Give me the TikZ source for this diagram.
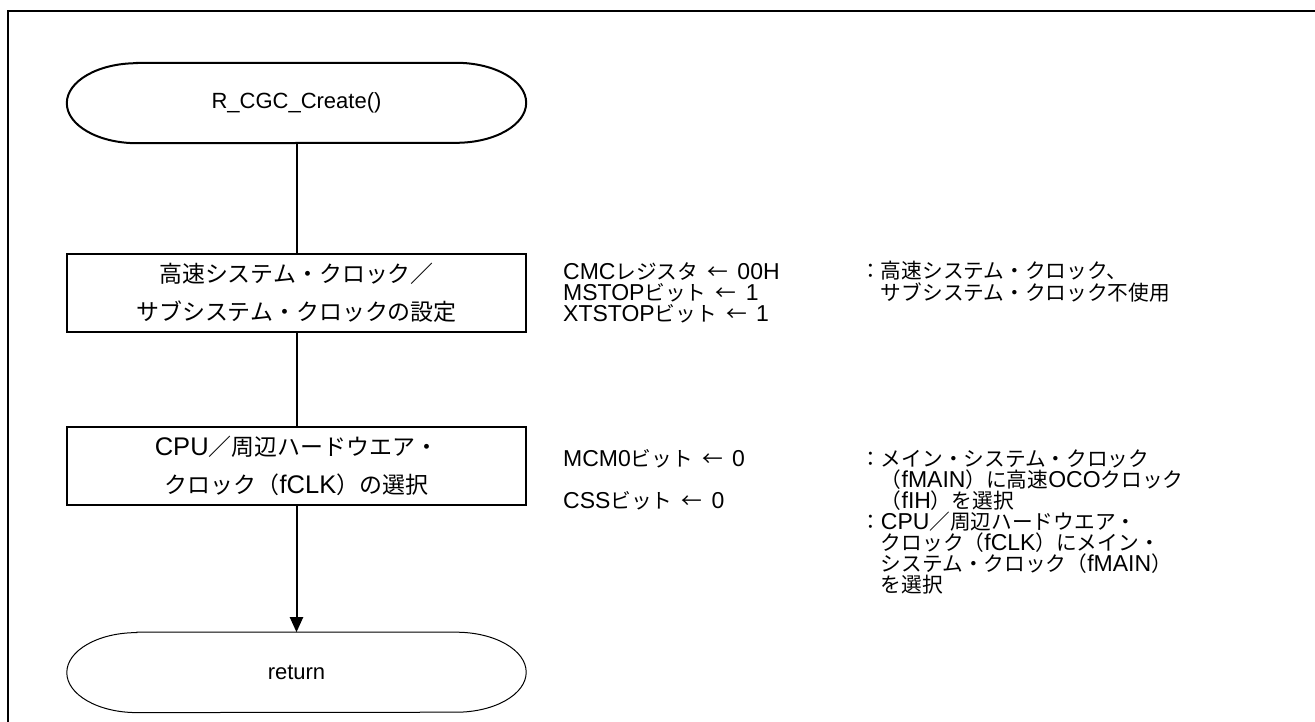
\documentclass[tikz,border=0pt]{standalone}
\usepackage{fontspec}
\setmainfont{Liberation Sans}
\newfontfamily\jp[Scale=0.9]{Noto Sans CJK JP}
\usetikzlibrary{shapes,arrows.meta,positioning}
\tikzset{term/.style={rectangle,minimum width=459pt,minimum height=80pt,inner sep=0pt,font=\fontsize{22}{26}\selectfont},}
\tikzset{block/.style={rectangle,draw,line width=2pt,minimum width=459pt,minimum height=78pt,inner sep=0pt,align=center,font=\fontsize{25.5}{38}\selectfont},}
\tikzset{note/.style={anchor=base west,inner sep=0pt,align=left,font=\fontsize{23}{21}\selectfont},}
\tikzstyle{line} = [line width=2pt]
\tikzstyle{arrow} = [line width=2pt,-{Triangle[length=15pt,width=13pt]}]
\newcommand{\termpath}[1]{([xshift=70pt]#1.north west) -- ([xshift=-70pt]#1.north east) arc[start angle=90,end angle=-90,x radius=70pt,y radius=40pt] -- ([xshift=70pt]#1.south west) arc[start angle=270,end angle=90,x radius=70pt,y radius=40pt] -- cycle}
\newcommand{\setto}{\hspace{0.4em}{\jp ←}\hspace{0.4em}}

\begin{document}
\begin{tikzpicture}[x=1pt,y=1pt]
  \useasboundingbox (0,0) rectangle (1315,-722);
  \draw[line width=2pt] (8,-722) -- (8,-11) -- (1315,-11);

    \node[term] (1) at (296.5,-103) {R\_CGC\_Create()};
    \node[block] (2) [below=110pt of 1] {{\jp 高速システム・クロック／}\\{\jp サブシステム・クロックの設定}};
    \node[block] (3) [below=93pt of 2] {CPU{\jp ／周辺ハードウエア・}\\{\jp クロック（}fCLK{\jp ）の選択}};
    \node[term] (4) [below=126pt of 3] {return};

    \draw[line width=2pt] \termpath{1};
    \draw[line width=1pt] \termpath{4};

    % base = baseline of the last line
    \node[note] (5) at (563,-321) {CMC{\jp レジスタ}\setto 00H\\MSTOP{\jp ビット}\setto 1\\XTSTOP{\jp ビット}\setto 1};
    \node[note] (6) at (860,-300) {{\jp ：高速システム・クロック、}\\\hspace*{0.9em}{\jp サブシステム・クロック不使用}};
    \node[note] (7) at (563,-508) {MCM0{\jp ビット}\setto 0\\[21pt]CSS{\jp ビット}\setto 0};
    \node[note] (8) at (860,-592) {{\jp ：メイン・システム・クロック}\\
      \hspace*{0.9em}{\jp （}fMAIN{\jp ）に高速}OCO{\jp クロック}\\
      \hspace*{0.9em}{\jp （}fIH{\jp ）を選択}\\
      {\jp ：}CPU{\jp ／周辺ハードウエア・}\\
      \hspace*{0.9em}{\jp クロック（}fCLK{\jp ）にメイン・}\\
      \hspace*{0.9em}{\jp システム・クロック（}fMAIN{\jp ）}\\
      \hspace*{0.9em}{\jp を選択}};

   	\draw[line] (1) -- (2);
   	\draw[line] (2) -- (3);
   	\draw[arrow] (3) -- (4);
\end{tikzpicture}
\end{document}
